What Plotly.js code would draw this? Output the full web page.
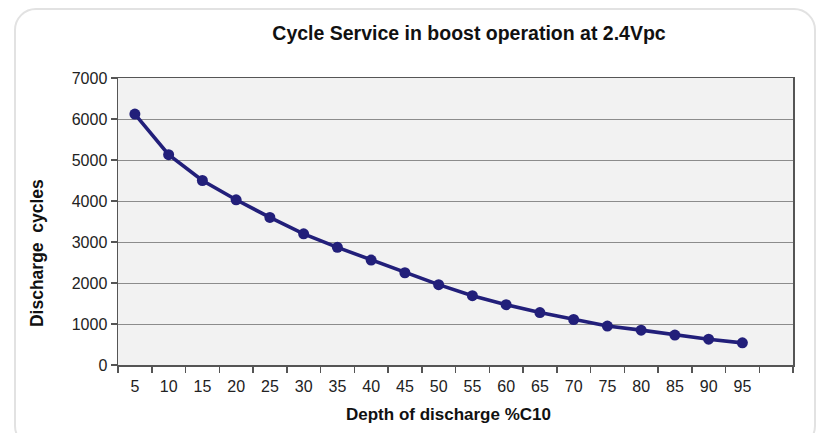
<!DOCTYPE html>
<html>
<head>
<meta charset="utf-8">
<script src="https://cdn.plot.ly/plotly-3.0.1.min.js"></script>
<style>
  html, body { margin: 0; padding: 0; background: #ffffff; }
  #frame { position: absolute; left: 14px; top: 8px; width: 802px; height: 440px;
           border: 2px solid #e2e2e2; border-radius: 22px; box-sizing: border-box; }
  #chart { position: absolute; left: 0; top: 0; width: 828px; height: 433px; }
</style>
</head>
<body>
<div id="frame"></div>
<div id="chart"></div>
<script>
const depth = [5, 10, 15, 20, 25, 30, 35, 40, 45, 50, 55, 60, 65, 70, 75, 80, 85, 90, 95];
const cycles = [6120, 5130, 4500, 4030, 3600, 3200, 2870, 2560, 2250, 1960, 1690, 1470, 1280, 1110, 950, 850, 730, 630, 540];
const xTickLabels = depth.map(String);
const yTicks = [0, 1000, 2000, 3000, 4000, 5000, 6000, 7000];
const xBoundaries = [2.5, 7.5, 12.5, 17.5, 22.5, 27.5, 32.5, 37.5, 42.5, 47.5, 52.5, 57.5, 62.5, 67.5, 72.5, 77.5, 82.5, 87.5, 92.5, 97.5, 102.5];

const fontFam = '"Liberation Sans Narrow", "Arial Narrow", "Liberation Sans", Arial, sans-serif';
const navy = '#221f7a';

const trace = {
  x: depth, y: cycles, type: 'scatter', mode: 'lines+markers',
  line: { color: navy, width: 3.6 },
  marker: { color: navy, size: 11 },
  hoverinfo: 'skip', showlegend: false
};

const layout = {
  width: 828, height: 433,
  paper_bgcolor: 'rgba(0,0,0,0)',
  plot_bgcolor: '#f2f2f2',
  margin: { l: 118, r: 35, t: 78, b: 68 },
  title: {
    text: '<b>Cycle Service in boost operation at 2.4Vpc</b>',
    font: { family: fontFam, size: 19.5, color: '#111' },
    x: 0.52, xanchor: 'center', y: 0.924, yanchor: 'middle', xref: 'paper'
  },
  xaxis: {
    range: [2.5, 102.5], tickvals: depth, ticktext: xTickLabels,
    ticks: '', showgrid: false, zeroline: false,
    showline: true, linecolor: '#555', linewidth: 1.5, mirror: true,
    tickfont: { family: fontFam, size: 16, color: '#222' },
    ticklabelstandoff: 6,
    minor: { tickvals: xBoundaries, ticks: 'outside', ticklen: 6, tickcolor: '#555', tickwidth: 1.5, showgrid: false }
  },
  yaxis: {
    range: [0, 7000], tickvals: yTicks, ticks: 'outside', ticklen: 6, tickcolor: '#555', tickwidth: 1.5,
    showgrid: true, gridcolor: '#8c8c8c', gridwidth: 1, zeroline: false,
    showline: true, linecolor: '#555', linewidth: 1.5, mirror: true,
    tickfont: { family: fontFam, size: 16, color: '#222' }
  },
  annotations: [
    { text: '<b>Depth of discharge %C10</b>', xref: 'paper', yref: 'paper',
      x: 0.49, y: -0.174, xanchor: 'center', yanchor: 'middle', showarrow: false,
      font: { family: fontFam, size: 17, color: '#111' } },
    { text: '<b>Discharge&nbsp; cycles</b>', xref: 'paper', yref: 'paper',
      x: -0.12, y: 0.39, xanchor: 'center', yanchor: 'middle', showarrow: false, textangle: -90,
      font: { family: fontFam, size: 17.5, color: '#111' } }
  ]
};

Plotly.newPlot('chart', [trace], layout, { displayModeBar: false, staticPlot: true });
</script>
</body>
</html>
